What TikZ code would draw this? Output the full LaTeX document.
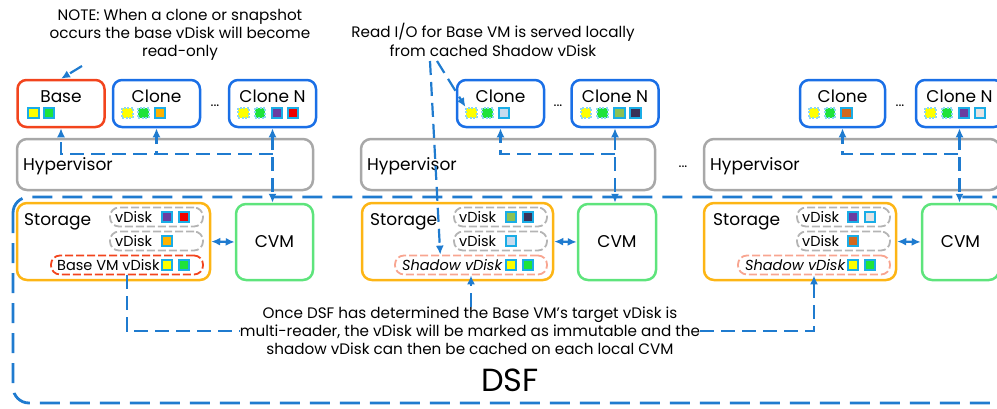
\documentclass[tikz,border=0pt]{standalone}
\usepackage{fontspec}
\setmainfont{Poppins}
\usetikzlibrary{arrows.meta, calc}

\definecolor{vmblue}{HTML}{1A6FE6}
\definecolor{basered}{HTML}{F2441D}
\definecolor{hvgray}{HTML}{A8A8A8}
\definecolor{dsfblue}{HTML}{1F7BCF}
\definecolor{stororange}{HTML}{FDB515}
\definecolor{cvmgreen}{HTML}{5EE47C}
\definecolor{sqcyan}{HTML}{1AADE6}
\definecolor{pillgray}{HTML}{B4B4B4}
\definecolor{pillred}{HTML}{F2441D}
\definecolor{pillpink}{HTML}{F8A590}
\definecolor{cyel}{HTML}{FFFF00}
\definecolor{cgrn}{HTML}{1FE33A}
\definecolor{corg}{HTML}{FFB300}
\definecolor{cpur}{HTML}{6A3DA0}
\definecolor{cred}{HTML}{F00000}
\definecolor{clgr}{HTML}{8DC153}
\definecolor{cnav}{HTML}{3A3258}
\definecolor{cpbl}{HTML}{C6DBEE}
\definecolor{cbrn}{HTML}{D2691E}
\definecolor{clgy}{HTML}{E4E4E4}

\begin{document}
\begin{tikzpicture}[x=1pt, y=-1pt]
  \tikzset{
    vmbox/.style={draw=vmblue, line width=2.5pt, rounded corners=9pt, minimum width=87pt, minimum height=47pt, inner sep=0pt},
    basebox/.style={vmbox, draw=basered},
    hvbox/.style={draw=hvgray, line width=2.5pt, rounded corners=10pt, minimum width=296pt, minimum height=51pt, inner sep=0pt},
    storbox/.style={draw=stororange, line width=2.5pt, rounded corners=10pt, minimum width=193pt, minimum height=77pt, inner sep=0pt},
    cvmbox/.style={draw=cvmgreen, line width=2.5pt, rounded corners=10pt, minimum width=77pt, minimum height=76pt, inner sep=0pt},
    pill/.style={draw=pillgray, line width=1.8pt, dash pattern=on 8pt off 3pt, rounded corners=9pt, minimum width=93pt, minimum height=19pt, inner sep=0pt},
    sq/.style={draw=sqcyan, line width=1.6pt, minimum size=10.5pt, inner sep=0pt},
    sqd/.style={sq, draw=sqcyan!50, dash pattern=on 2pt off 1.5pt},
    title/.style={font=\fontsize{17}{19}\selectfont, inner sep=0pt, anchor=base},
    lbl/.style={font=\fontsize{17}{19}\selectfont, inner sep=0pt, anchor=base west},
    vd/.style={font=\fontsize{14.5}{17}\selectfont, inner sep=0pt, anchor=base west},
    note/.style={font=\fontsize{15.2}{18.2}\selectfont, align=center, inner sep=0pt},
    dots/.style={font=\fontsize{14}{16}\selectfont, inner sep=0pt},
    flow/.style={draw=dsfblue, line width=2.2pt, dash pattern=on 14pt off 7pt, >={Latex[length=9pt,width=8pt]}},
  }
  \useasboundingbox (0,0) rectangle (997,408);

  % DSF area
  \draw[dsfblue, line width=2.8pt, dash pattern=on 20pt off 10pt, rounded corners=16pt] (13,197) rectangle (1015,403);
  \node[font=\fontsize{32}{34}\selectfont, inner sep=0pt] (dsf) at (510,380) {DSF};

  % column 1
  \begin{scope}
    \node[basebox] (b1) at (61,103.5) {};
    \node[title] (b1t) at (61,102) {Base};
    \node[sq, fill=cyel] (b1q1) at (33.5,113) {};
    \node[sq, fill=cgrn] (b1q2) at (49,113) {};
    \node[vmbox] (c1) at (156.5,103.5) {};
    \node[title] (c1t) at (156.5,102) {Clone};
    \node[sqd, fill=cyel] (c1q1) at (127.5,113) {};
    \node[sqd, fill=cgrn] (c1q2) at (143.5,113) {};
    \node[sq, fill=corg] (c1q3) at (160,113) {};
    \node[dots] (d1) at (215,106) {...};
    \node[vmbox] (n1) at (272.5,103.5) {};
    \node[title] (n1t) at (272.5,102) {Clone N};
    \node[sqd, fill=cyel] (n1q1) at (243.5,113) {};
    \node[sqd, fill=cgrn] (n1q2) at (260,113) {};
    \node[sq, fill=cpur] (n1q3) at (277,113) {};
    \node[sq, fill=cred] (n1q4) at (293,113) {};
    \node[hvbox] (h1) at (165,164.5) {};
    \node[lbl] (h1t) at (23,170) {Hypervisor};

    \node[storbox] (s1) at (113.5,241.5) {};
    \node[lbl] (s1t) at (24,225) {Storage};
    \node[pill] (p1a) at (156.5,217) {};
    \node[vd] (p1at) at (115,222) {vDisk};
    \node[sq, fill=cpur] (p1aq1) at (167,217) {};
    \node[sq, fill=cred] (p1aq2) at (184,217) {};
    \node[pill] (p1b) at (156.5,241) {};
    \node[vd] (p1bt) at (115,246) {vDisk};
    \node[sq, fill=corg] (p1bq1) at (167,241) {};
    \node[pill, draw=pillred, minimum width=152pt] (p1c) at (127,265) {};
    \node[vd] (p1ct) at (57,270) {Base VM vDisk};
    \node[sq, fill=cyel] (p1cq1) at (167,265) {};
    \node[sq, fill=cgrn] (p1cq2) at (184,265) {};
    \node[cvmbox] (m1) at (274.5,242) {};
    \node[title] (m1t) at (274.5,247) {CVM};

    \coordinate (j1) at (272.5,154);
    \draw[flow, <->] (n1.south) -- (n1.south |- m1.north);
    \draw[flow, ->] (j1) -| (b1.south);
    \draw[flow, ->] (j1) -| (c1.south);
    \draw[flow, <->] (s1.east) -- (m1.west);
  \end{scope}

  % column 2
  \begin{scope}[shift={(344,0)}]
    \node[vmbox] (c2) at (156.5,103.5) {};
    \node[title] (c2t) at (156.5,102) {Clone};
    \node[sqd, fill=cyel] (c2q1) at (127.5,113) {};
    \node[sqd, fill=cgrn] (c2q2) at (143.5,113) {};
    \node[sq, fill=cpbl] (c2q3) at (160,113) {};
    \node[dots] (d2) at (214,106) {...};
    \node[vmbox] (n2) at (271,103.5) {};
    \node[title] (n2t) at (271,102) {Clone N};
    \node[sqd, fill=cyel] (n2q1) at (242,113) {};
    \node[sqd, fill=cgrn] (n2q2) at (258.5,113) {};
    \node[sq, fill=clgr] (n2q3) at (275.5,113) {};
    \node[sq, fill=cnav] (n2q4) at (291.5,113) {};
    \node[hvbox, minimum width=294pt] (h2) at (164,164.5) {};
    \node[lbl] (h2t) at (23,170) {Hypervisor};

    \node[storbox, minimum width=191pt] (s2) at (113.5,241.5) {};
    \node[lbl] (s2t) at (26,225) {Storage};
    \node[pill] (p2a) at (156.5,217) {};
    \node[vd] (p2at) at (115,222) {vDisk};
    \node[sq, fill=clgr] (p2aq1) at (167,217) {};
    \node[sq, fill=cnav] (p2aq2) at (184,217) {};
    \node[pill] (p2b) at (156.5,241) {};
    \node[vd] (p2bt) at (115,246) {vDisk};
    \node[sq, fill=cpbl] (p2bq1) at (167,241) {};
    \node[pill, draw=pillpink, minimum width=152pt] (p2c) at (127,265) {};
    \node[vd] (p2ct) at (58,270) {\itshape Shadow vDisk};
    \node[sq, fill=cyel] (p2cq1) at (167,265) {};
    \node[sq, fill=cgrn] (p2cq2) at (184,265) {};
    \node[cvmbox, minimum width=78pt] (m2) at (273,242) {};
    \node[title] (m2t) at (273,247) {CVM};

    \coordinate (j2) at (271,154);
    \draw[flow, <->] (n2.south) -- (n2.south |- m2.north);
    \draw[flow, ->] (j2) -| (c2.south);
    \draw[flow, <->] (s2.east) -- (m2.west);
  \end{scope}

  \node[dots] (d4) at (683,167) {...};

  % column 3
  \begin{scope}[shift={(687,0)}]
    \node[vmbox, minimum width=85pt] (c3) at (155.5,103.5) {};
    \node[title] (c3t) at (155.5,102) {Clone};
    \node[sqd, fill=cyel] (c3q1) at (127,113) {};
    \node[sqd, fill=cgrn] (c3q2) at (143,113) {};
    \node[sq, fill=cbrn] (c3q3) at (159.5,113) {};
    \node[dots] (d3) at (213,106) {...};
    \node[vmbox] (n3) at (272.5,103.5) {};
    \node[title] (n3t) at (272.5,102) {Clone N};
    \node[sqd, fill=cyel] (n3q1) at (243.5,113) {};
    \node[sqd, fill=cgrn] (n3q2) at (260,113) {};
    \node[sq, fill=cpur] (n3q3) at (277,113) {};
    \node[sq, fill=clgy] (n3q4) at (293,113) {};
    \node[hvbox] (h3) at (165,164.5) {};
    \node[lbl] (h3t) at (23,170) {Hypervisor};

    \node[storbox, minimum width=192pt] (s3) at (113,241.5) {};
    \node[lbl] (s3t) at (26,225) {Storage};
    \node[pill] (p3a) at (156.5,217) {};
    \node[vd] (p3at) at (115,222) {vDisk};
    \node[sq, fill=cpur] (p3aq1) at (166,217) {};
    \node[sq, fill=clgy] (p3aq2) at (183,217) {};
    \node[pill] (p3b) at (156.5,241) {};
    \node[vd] (p3bt) at (115,246) {vDisk};
    \node[sq, fill=cbrn] (p3bq1) at (166,241) {};
    \node[pill, draw=pillpink, minimum width=152pt] (p3c) at (127,265) {};
    \node[vd] (p3ct) at (58,270) {\itshape Shadow vDisk};
    \node[sq, fill=cyel] (p3cq1) at (166,265) {};
    \node[sq, fill=cgrn] (p3cq2) at (183,265) {};
    \node[cvmbox] (m3) at (273.5,242) {};
    \node[title] (m3t) at (273.5,247) {CVM};

    \coordinate (j3) at (271,154);
    \draw[flow, <->] (n3.south) -- (n3.south |- m3.north);
    \draw[flow, ->] (j3) -| (c3.south);
    \draw[flow, <->] (s3.east) -- (m3.west);
  \end{scope}

  % notes
  \node[note] (note1) at (180,35) {NOTE: When a clone or snapshot\\occurs the base vDisk will become\\read-only};
  \coordinate (k1) at (82,66);
  \draw[flow, ->] (k1) -- (b1.north);

  \node[note] (note2) at (493,40) {Read I/O for Base VM is served locally\\from cached Shadow vDisk};
  \coordinate (k2) at (437,61);
  \coordinate (k3) at (430,61);
  \draw[flow, ->] (k2) -- (c2q1.north west);
  \draw[flow, ->] (k3) -- ($(p2c.north west)!0.3!(p2c.north east)$);

  \node[note] (once) at (470,331) {Once DSF has determined the Base VM's target vDisk is\\multi-reader, the vDisk will be marked as immutable and the\\shadow vDisk can then be cached on each local CVM};
  \draw[flow] (p1c.south) |- (once.west);
  \draw[flow, ->] (once.east) -| (p3c.south);
  \draw[flow, ->] (p2c.south |- once.north) -- (p2c.south);
\end{tikzpicture}
\end{document}
